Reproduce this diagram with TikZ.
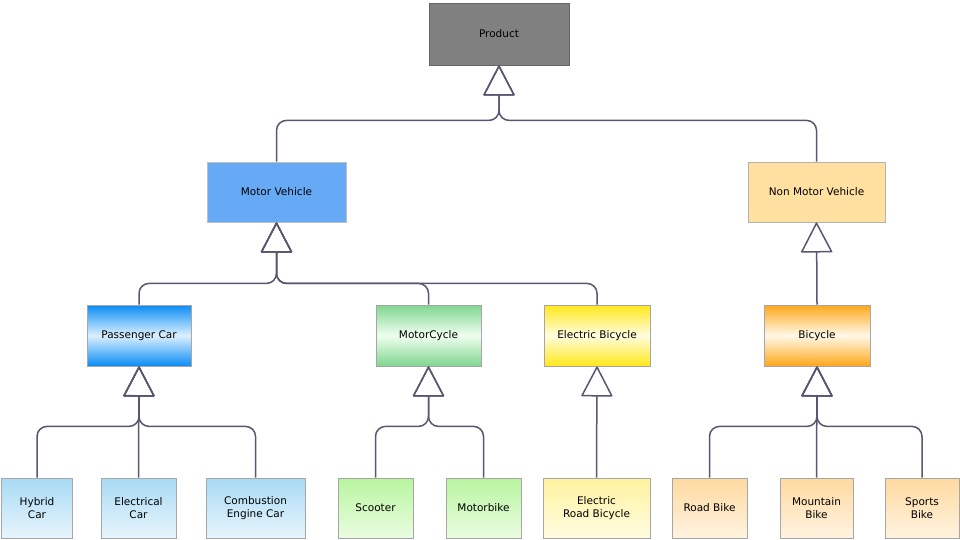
\documentclass[tikz,border=0pt]{standalone}
\usepackage{fontspec}
\setmainfont{DejaVu Sans}
\usetikzlibrary{arrows.meta,calc}
\definecolor{ln}{HTML}{5A5570}
\definecolor{cprod}{RGB}{128,128,128}
\definecolor{cmv}{RGB}{102,170,245}
\definecolor{cnmv}{RGB}{255,224,160}
\definecolor{pcA}{RGB}{10,140,245}\definecolor{pcB}{RGB}{220,240,255}
\definecolor{mcA}{RGB}{127,214,143}\definecolor{mcB}{RGB}{240,255,240}
\definecolor{ebA}{RGB}{255,232,26}\definecolor{ebB}{RGB}{255,253,224}
\definecolor{biA}{RGB}{255,168,26}\definecolor{biB}{RGB}{255,248,232}
\definecolor{lbA}{RGB}{168,218,245}\definecolor{lbB}{RGB}{232,245,252}
\definecolor{lgA}{RGB}{184,245,160}\definecolor{lgB}{RGB}{235,253,225}
\definecolor{lyA}{RGB}{255,243,160}\definecolor{lyB}{RGB}{255,251,224}
\definecolor{loA}{RGB}{255,217,160}\definecolor{loB}{RGB}{255,243,224}
\tikzset{
 x=1pt,y=-1pt,
 box/.style={draw=#1, line width=0.8pt, align=center, inner sep=0pt, font=\fontsize{10.5}{13}\selectfont},
 bx/.style n args={3}{box=#1, minimum width=#2, minimum height=#3},
 mid/.style 2 args={top color=#1, bottom color=#1, middle color=#2},
 leaf/.style 2 args={top color=#1, bottom color=#2},
 lb/.style={leaf={lbA}{lbB}}, lg/.style={leaf={lgA}{lgB}},
 ly/.style={leaf={lyA}{lyB}}, lo/.style={leaf={loA}{loB}},
 gen/.style={draw=ln, line width=1.5pt, rounded corners=10pt, -{Triangle[open,length=31pt,width=32pt,round]}},
}
\begin{document}
\begin{tikzpicture}
\useasboundingbox (0,0) rectangle (960,539);
\node[bx={black!60}{140}{62}, fill=cprod] (prod) at (499,34) {Product};
\node[bx={black!25}{139}{60}, fill=cmv] (mv) at (276.5,192) {Motor Vehicle};
\node[bx={black!30}{137}{60}, fill=cnmv] (nmv) at (816.5,192) {Non Motor Vehicle};
\node[bx={black!35}{104}{61}, mid={pcA}{pcB}] (pc) at (139,335.5) {Passenger Car};
\node[bx={black!35}{105}{61}, mid={mcA}{mcB}] (mc) at (428.5,335.5) {MotorCycle};
\node[bx={black!35}{106}{61}, mid={ebA}{ebB}] (eb) at (597,335.5) {Electric Bicycle};
\node[bx={black!35}{106}{61}, mid={biA}{biB}] (bi) at (817,335.5) {Bicycle};
\node[bx={black!35}{71}{60}, lb] (hc) at (37,508) {Hybrid\\Car};
\node[bx={black!35}{75}{60}, lb] (ec) at (138.5,508) {Electrical\\Car};
\node[bx={black!35}{99}{60}, lb] (cc) at (255.5,508) {Combustion\\Engine Car};
\node[bx={black!35}{75}{60}, lg] (sc) at (375.5,508) {Scooter};
\node[bx={black!35}{75}{60}, lg] (mb) at (483.5,508) {Motorbike};
\node[bx={black!35}{107}{60}, ly] (erb) at (596.5,508) {Electric\\Road Bicycle};
\node[bx={black!35}{75}{60}, lo] (rb) at (709.5,508) {Road Bike};
\node[bx={black!35}{73}{60}, lo] (mtb) at (816.5,508) {Mountain\\Bike};
\node[bx={black!35}{74}{60}, lo] (spb) at (922,508) {Sports\\Bike};
% connectors
\draw[gen] (mv.north) |- ($(prod.south)+(0,55)$) -- (prod.south);
\draw[gen] (nmv.north) |- ($(prod.south)+(0,55)$) -- (prod.south);
\draw[gen] (pc.north) |- ($(mv.south)+(0,61)$) -- (mv.south);
\draw[gen] (mc.north) |- ($(mv.south)+(0,61)$) -- (mv.south);
\draw[gen] (eb.north) |- ($(mv.south)+(0,61)$) -- (mv.south);
\draw[gen] (bi.north) -- (nmv.south);
\draw[gen] (hc.north) |- ($(pc.south)+(0,60)$) -- (pc.south);
\draw[gen] (ec.north) -- (pc.south);
\draw[gen] (cc.north) |- ($(pc.south)+(0,60)$) -- (pc.south);
\draw[gen] (sc.north) |- ($(mc.south)+(0,60)$) -- (mc.south);
\draw[gen] (mb.north) |- ($(mc.south)+(0,60)$) -- (mc.south);
\draw[gen] (erb.north) -- (eb.south);
\draw[gen] (rb.north) |- ($(bi.south)+(0,60)$) -- (bi.south);
\draw[gen] (mtb.north) -- (bi.south);
\draw[gen] (spb.north) |- ($(bi.south)+(0,60)$) -- (bi.south);
\end{tikzpicture}
\end{document}
